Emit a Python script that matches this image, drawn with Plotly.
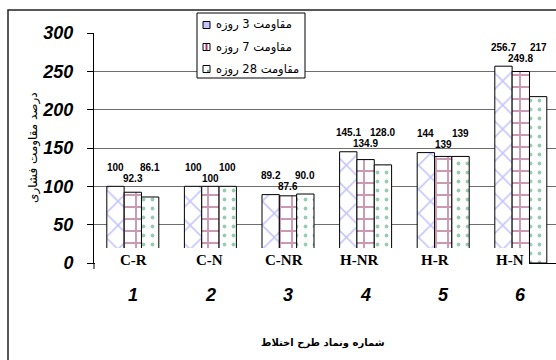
import plotly.graph_objects as go

# Mix designs (category labels and their running numbers)
categories = ["C-R", "C-N", "C-NR", "H-NR", "H-R", "H-N"]
mix_numbers = ["1", "2", "3", "4", "5", "6"]

# Relative compressive strength (%) at 3, 7 and 28 days, as printed on the bars
day3_text = ["100", "100", "89.2", "145.1", "144", "256.7"]
day7_text = ["92.3", "100", "87.6", "134.9", "139", "249.8"]
day28_text = ["86.1", "100", "90.0", "128.0", "139", "217"]

series_names = ["مقاومت 3 روزه", "مقاومت 7 روزه", "مقاومت 28 روزه"]
y_title = "درصد مقاومت فشاری"
x_title = "شماره ونماد طرح اختلاط"

day3 = [float(t) for t in day3_text]
day7 = [float(t) for t in day7_text]
day28 = [float(t) for t in day28_text]

W, H = 556, 360
L, T, B = 94, 33, 97
PW = W - L
PH = H - T - B
X_RANGE = [-0.5, -0.5 + PW / 77.6]


def px2x(px):
    return (px - L) / PW


def py2y(py):
    return (H - B - py) / PH


ARABIC = "DejaVu Sans"
SANS = "Liberation Sans, Arial"
SERIF = "Liberation Serif, Times New Roman"

patterns = [
    dict(shape="x", fgcolor="#8c8cff", bgcolor="white", size=17, solidity=0.18),
    dict(shape="+", fgcolor="#993366", bgcolor="white", size=12, solidity=0.3),
    dict(shape=".", fgcolor="#2f9a66", bgcolor="white", size=9, solidity=0.14),
]

fig = go.Figure()
for name, vals, pat in zip(series_names, [day3, day7, day28], patterns):
    fig.add_trace(go.Bar(
        x=list(range(len(categories))), y=vals, name=name,
        marker=dict(color="white", pattern=pat,
                    line=dict(color="black", width=1)),
        showlegend=False, hoverinfo="skip",
    ))

annotations = []

# value labels above each group
bar_px = 77.6 * (1 - 0.33) / 3
for i in range(len(categories)):
    top = max(day3[i], day7[i], day28[i])
    for k, texts in enumerate([day3_text, day7_text, day28_text]):
        annotations.append(dict(
            x=i, y=top, xref="x", yref="y", text=texts[i],
            showarrow=False, xshift=(k - 1) * bar_px,
            yshift=8 if k == 1 else 19, yanchor="middle",
            font=dict(family=SANS, size=10, color="black", weight="bold"),
        ))

# category names and mix numbers under the axis
for i, (c, n) in enumerate(zip(categories, mix_numbers)):
    annotations.append(dict(
        x=i, y=py2y(260), xref="x", yref="paper", text=c, showarrow=False,
        xshift=1 - 2.4 * i, yanchor="middle",
        font=dict(family=SERIF, size=15, color="black", weight="bold"),
    ))
    annotations.append(dict(
        x=i, y=py2y(295), xref="x", yref="paper", text=n, showarrow=False,
        yanchor="middle",
        font=dict(family=SANS, size=18, color="black", weight="bold",
                  style="italic"),
    ))

annotations.append(dict(
    x=px2x(323), y=py2y(343), xref="paper", yref="paper", text=x_title,
    showarrow=False, yanchor="middle",
    font=dict(family=ARABIC, size=10, color="black", weight="bold"),
))
annotations.append(dict(
    x=px2x(33), y=py2y(148), xref="paper", yref="paper", text=y_title,
    showarrow=False, textangle=-90, xanchor="center", yanchor="middle",
    font=dict(family=ARABIC, size=12, color="black"),
))

shapes = []
# outer chart border
shapes.append(dict(type="rect", xref="paper", yref="paper",
                   x0=px2x(8), x1=px2x(W + 10), y0=py2y(H + 10), y1=py2y(10),
                   line=dict(color="#222222", width=1.5), layer="above"))
# white band behind the category names
shapes.append(dict(type="rect", xref="paper", yref="paper",
                   x0=px2x(95), x1=px2x(529), y0=py2y(276), y1=py2y(248),
                   fillcolor="white", line=dict(width=0), layer="above"))
# short extension of the value axis below zero
shapes.append(dict(type="line", xref="paper", yref="paper",
                   x0=px2x(94), x1=px2x(94), y0=py2y(269), y1=py2y(263),
                   line=dict(color="black", width=1), layer="above"))

# legend box
lx0, lx1, ly0, ly1 = 197, 305, 13, 78
shapes.append(dict(type="rect", xref="paper", yref="paper",
                   x0=px2x(lx0), x1=px2x(lx1), y0=py2y(ly1), y1=py2y(ly0),
                   fillcolor="white", line=dict(color="black", width=1),
                   layer="above"))
rows = [25, 47, 69]
sw = 7
swatch_fill = ["#c4c4ff", "white", "white"]
for r, name, fill in zip(rows, series_names, swatch_fill):
    sx0, sx1 = 203, 203 + sw
    sy0, sy1 = r - sw / 2, r + sw / 2
    shapes.append(dict(type="rect", xref="paper", yref="paper",
                       x0=px2x(sx0), x1=px2x(sx1), y0=py2y(sy1), y1=py2y(sy0),
                       fillcolor=fill, line=dict(color="black", width=1),
                       layer="above"))
    annotations.append(dict(
        x=px2x(214), y=py2y(r), xref="paper", yref="paper", text=name,
        showarrow=False, xanchor="left", yanchor="middle",
        font=dict(family=ARABIC, size=11.5, color="black"),
    ))
# swatch details
shapes.append(dict(type="line", xref="paper", yref="paper",
                   x0=px2x(206.5), x1=px2x(206.5),
                   y0=py2y(rows[1] + 3), y1=py2y(rows[1] - 3),
                   line=dict(color="#b0306a", width=2), layer="above"))
shapes.append(dict(type="line", xref="paper", yref="paper",
                   x0=px2x(207), x1=px2x(209),
                   y0=py2y(rows[2] + 2), y1=py2y(rows[2] + 2),
                   line=dict(color="#2f9a66", width=1.5), layer="above"))

fig.update_layout(
    width=W, height=H, autosize=False,
    margin=dict(l=L, r=0, t=T, b=B, pad=0),
    paper_bgcolor="white", plot_bgcolor="white",
    barmode="group", bargap=0.33, bargroupgap=0,
    showlegend=False,
    annotations=annotations, shapes=shapes,
)
fig.update_xaxes(
    range=X_RANGE, showticklabels=False, ticks="", showgrid=False,
    showline=True, linecolor="black", linewidth=1, zeroline=False,
    fixedrange=True,
)
fig.update_yaxes(
    range=[0, 300], dtick=50, ticks="outside", ticklen=6, tickcolor="black",
    showline=True, linecolor="black", linewidth=1, zeroline=False,
    showgrid=True, gridcolor="#6e6e6e", gridwidth=1,
    ticklabelstandoff=10,
    tickfont=dict(family=SANS, size=18, color="black", weight="bold",
                  style="italic"),
    fixedrange=True,
)

fig.write_html("out.html", config={"displayModeBar": False})
